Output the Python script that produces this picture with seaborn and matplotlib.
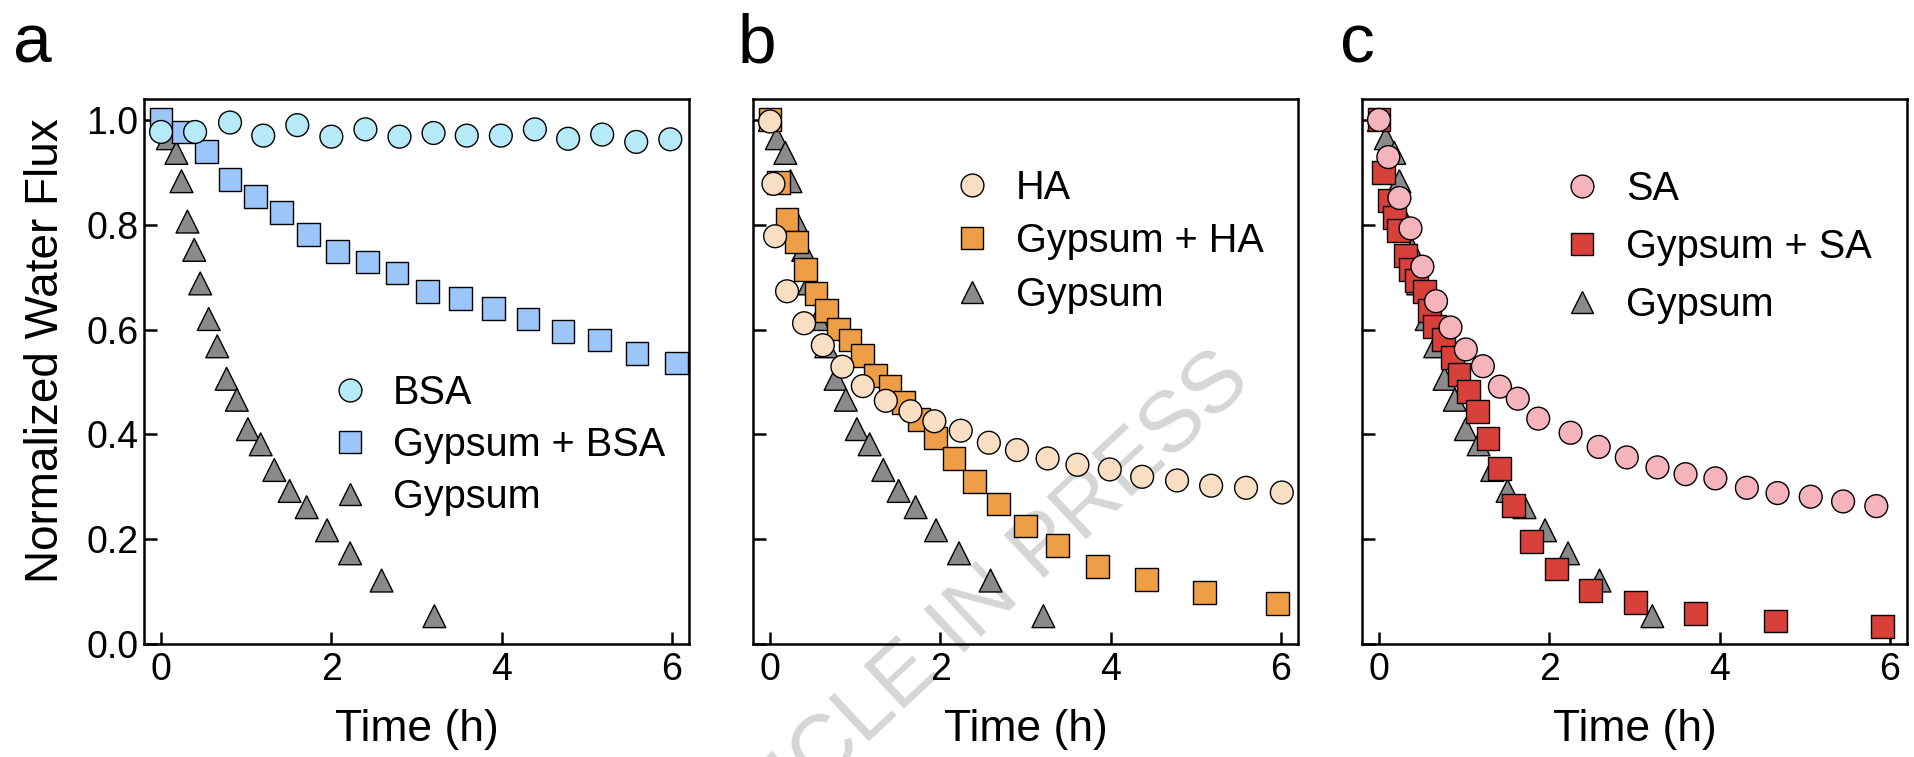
import numpy as np
import pandas as pd
import matplotlib
matplotlib.use('Agg')
import matplotlib.pyplot as plt
import seaborn as sns
from matplotlib.ticker import FormatStrFormatter

# gypsum-only control, same run shown in every panel
gyp_t = [0, 0.08, 0.18, 0.24, 0.31, 0.39, 0.46, 0.56, 0.66, 0.77, 0.89, 1.02,
         1.17, 1.33, 1.51, 1.71, 1.95, 2.22, 2.59, 3.21]
gyp_flux = [1.0, 0.965, 0.937, 0.883, 0.806, 0.752, 0.688, 0.62, 0.568, 0.506,
            0.466, 0.41, 0.381, 0.332, 0.292, 0.261, 0.217, 0.173, 0.121, 0.053]

# panel a
bsa_t = [0, 0.40, 0.81, 1.20, 1.60, 2.0, 2.40, 2.80, 3.20, 3.59, 3.99, 4.39,
         4.78, 5.18, 5.58, 5.98]
bsa_flux = [0.977, 0.977, 0.995, 0.970, 0.990, 0.968, 0.982, 0.968, 0.975,
            0.970, 0.970, 0.982, 0.964, 0.972, 0.958, 0.963]
gbsa_t = [0, 0.26, 0.53, 0.81, 1.11, 1.41, 1.73, 2.07, 2.42, 2.77, 3.13, 3.52,
          3.90, 4.31, 4.72, 5.15, 5.59, 6.05]
gbsa_flux = [1.0, 0.977, 0.94, 0.886, 0.854, 0.823, 0.782, 0.749, 0.729, 0.708,
             0.673, 0.659, 0.640, 0.620, 0.596, 0.580, 0.554, 0.536]

# panel b
ha_t = [0, 0.04, 0.06, 0.20, 0.40, 0.62, 0.85, 1.09, 1.36, 1.65, 1.93, 2.24,
        2.57, 2.90, 3.26, 3.61, 3.99, 4.37, 4.78, 5.18, 5.59, 6.01]
ha_flux = [0.997, 0.878, 0.778, 0.673, 0.612, 0.570, 0.529, 0.492, 0.464, 0.444,
           0.425, 0.407, 0.384, 0.370, 0.354, 0.342, 0.333, 0.319, 0.312, 0.302,
           0.298, 0.289]
gha_t = [0, 0.10, 0.20, 0.31, 0.42, 0.54, 0.66, 0.80, 0.94, 1.09, 1.24, 1.41,
         1.57, 1.75, 1.94, 2.16, 2.40, 2.68, 3.00, 3.38, 3.85, 4.42, 5.10, 5.96]
gha_flux = [1.0, 0.88, 0.81, 0.767, 0.714, 0.668, 0.637, 0.601, 0.580, 0.550,
            0.513, 0.492, 0.460, 0.428, 0.393, 0.354, 0.310, 0.267, 0.225, 0.188,
            0.148, 0.123, 0.098, 0.077]

# panel c
sa_t = [0, 0.11, 0.24, 0.37, 0.51, 0.67, 0.84, 1.02, 1.22, 1.42, 1.63, 1.87,
        2.25, 2.58, 2.91, 3.27, 3.60, 3.95, 4.32, 4.68, 5.07, 5.45, 5.84]
sa_flux = [1.0, 0.929, 0.851, 0.793, 0.720, 0.654, 0.604, 0.562, 0.530, 0.491,
           0.468, 0.430, 0.403, 0.376, 0.356, 0.337, 0.324, 0.316, 0.298, 0.288,
           0.281, 0.272, 0.263]
gsa_t = [0, 0.05, 0.12, 0.18, 0.23, 0.31, 0.37, 0.44, 0.53, 0.59, 0.65, 0.76,
         0.86, 0.94, 1.05, 1.16, 1.28, 1.42, 1.58, 1.79, 2.08, 2.48, 3.01, 3.72,
         4.66, 5.91]
gsa_flux = [1.0, 0.899, 0.846, 0.814, 0.789, 0.742, 0.715, 0.693, 0.673, 0.637,
            0.606, 0.581, 0.547, 0.514, 0.482, 0.443, 0.392, 0.335, 0.264, 0.196,
            0.143, 0.102, 0.079, 0.058, 0.044, 0.033]

xticks = [0, 2, 4, 6]
yticks = [0.0, 0.2, 0.4, 0.6, 0.8, 1.0]

sns.set_style('ticks')
plt.rcParams['font.family'] = ['Liberation Sans', 'DejaVu Sans']
plt.rcParams['text.color'] = 'black'
plt.rcParams['axes.labelcolor'] = 'black'
plt.rcParams['xtick.color'] = 'black'
plt.rcParams['ytick.color'] = 'black'

fig = plt.figure(figsize=(19.15, 7.57), dpi=100)

panels = [
    # letter, foulant, foulant data, combo data, colours, axes left,
    # legend anchor, legend row spacing, letter x
    ('a', 'BSA', bsa_t, bsa_flux, gbsa_t, gbsa_flux, '#b6eaf8', '#9cc6fa',
     0.0752, (0.341, 0.495), 0.35, 0.007),
    ('b', 'HA', ha_t, ha_flux, gha_t, gha_flux, '#f8dfc4', '#ef9e48',
     0.3932, (0.366, 0.872), 0.39, 0.385),
    ('c', 'SA', sa_t, sa_flux, gsa_t, gsa_flux, '#f5b3bc', '#d8413a',
     0.7112, (0.368, 0.870), 0.51, 0.700),
]

for letter, name, ft, ff, ct, cf, fcol, ccol, left, leg_xy, lsp, lx in panels:
    ax = fig.add_axes([left, 0.1493, 0.2846, 0.720])
    ax.set_facecolor('none')
    combo = 'Gypsum + ' + name
    # drawing order: gypsum at the back, foulant on top
    df = pd.concat([
        pd.DataFrame({'time': gyp_t, 'flux': gyp_flux, 'sample': 'Gypsum'}),
        pd.DataFrame({'time': ct, 'flux': cf, 'sample': combo}),
        pd.DataFrame({'time': ft, 'flux': ff, 'sample': name}),
    ], ignore_index=True)
    order = [name, combo, 'Gypsum']
    pal = {name: fcol, combo: ccol, 'Gypsum': '#8a8a8a'}
    mk = {name: 'o', combo: 's', 'Gypsum': '^'}
    sns.scatterplot(data=df, x='time', y='flux', hue='sample', style='sample',
                    hue_order=order, style_order=order, palette=pal, markers=mk,
                    s=270, edgecolor='black', linewidth=1.0, ax=ax)
    handles, labels = ax.get_legend_handles_labels()
    ax.legend(handles, labels, loc='upper left', bbox_to_anchor=leg_xy,
              frameon=False, fontsize=28.5, handlelength=1.0, handletextpad=0.6,
              labelspacing=lsp, borderpad=0, borderaxespad=0)

    ax.set_xlim(-0.2, 6.2)
    ax.set_ylim(0, 1.04)
    ax.set_xticks(xticks)
    ax.set_yticks(yticks)
    ax.yaxis.set_major_formatter(FormatStrFormatter('%.1f'))
    ax.tick_params(direction='in', length=9, width=1.8, labelsize=27,
                   color='black', labelcolor='black')
    ax.tick_params(axis='x', pad=6)
    ax.tick_params(axis='y', pad=4)
    for sp in ax.spines.values():
        sp.set_visible(True)
        sp.set_linewidth(1.8)
        sp.set_color('black')
    ax.set_xlabel('Time (h)', fontsize=32, labelpad=15)
    if letter == 'a':
        ax.set_ylabel('Normalized Water Flux', fontsize=33)
        ax.yaxis.set_label_coords(-0.14, 0.539)
    else:
        ax.set_ylabel('')
        ax.tick_params(axis='y', labelleft=False)
    fig.text(lx, 0.917, letter, fontsize=50, va='baseline', ha='left')

# journal watermark, partly running off the bottom edge as in the source
fig.text(0.496, 0.16, 'ARTICLE IN PRESS', fontsize=62, color='#d6d6d6',
         rotation=43, rotation_mode='anchor', ha='center', va='center',
         zorder=-1)

fig.savefig('out.png', dpi=100)
